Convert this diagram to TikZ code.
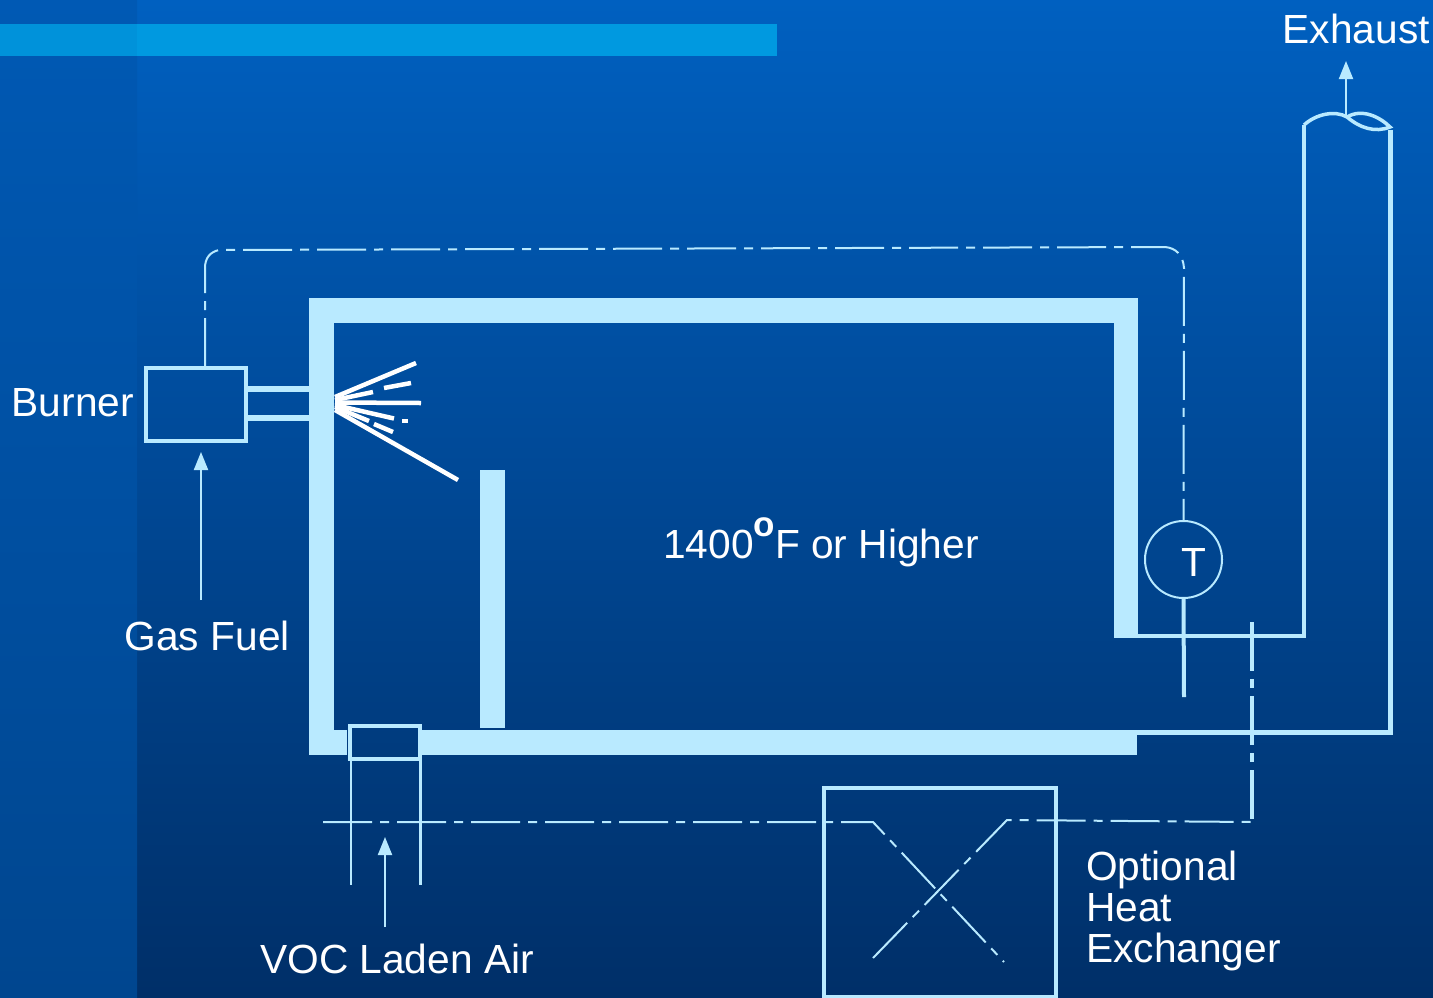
\documentclass[tikz,border=0pt]{standalone}
\usepackage{fontspec}
\setmainfont{Liberation Sans}
\usetikzlibrary{arrows.meta}
\definecolor{wallc}{HTML}{B9EAFF}
\definecolor{bandc}{HTML}{0099E0}
\definecolor{bandl}{HTML}{0092DA}
\definecolor{bgtop}{HTML}{0060C0}
\definecolor{bgbot}{HTML}{002F68}
\definecolor{ltop}{HTML}{0059B4}
\definecolor{lbot}{HTML}{00468F}
\tikzset{
  wall/.style={fill=wallc,draw=none},
  pipeline/.style={draw=wallc,line width=#1},
  pipeline/.default=4pt,
  dashdot/.style={draw=wallc,line width=#1,dash pattern=on 49pt off 8pt on 9pt off 8pt},
  dashdot/.default=2pt,
  flow/.style={draw=wallc,line width=2pt,-{Triangle[length=18pt,width=14pt]}},
  ray/.style={draw=white,line width=4.5pt},
  label/.style={text=white,inner sep=0pt,anchor=base west,font=\fontsize{40.7}{41}\selectfont,align=left},
}
\begin{document}
\begin{tikzpicture}[x=1pt,y=-1pt]
\useasboundingbox (0,0) rectangle (1433,997);
% background
\shade[top color=bgtop,bottom color=bgbot] (0,0) rectangle (1433,997);
\shade[top color=ltop,bottom color=lbot] (0,0) rectangle (137,997);
\fill[bandc] (0,24) rectangle (777,56);
\fill[bandl] (0,24) rectangle (137,56);
% furnace walls
\fill[wall] (309,298) rectangle (1138,323);
\fill[wall] (309,298) rectangle (334,755);
\fill[wall] (1114,298) rectangle (1138,638);
\fill[wall] (309,730) rectangle (347,755);
\fill[wall] (419,730) rectangle (1137,755);
\fill[wall] (480,470) rectangle (505,728);
% named parts
\node[draw=wallc,line width=4pt,minimum width=100pt,minimum height=73pt,inner sep=0pt] (burner) at (196,404.5) {};
\node[draw=wallc,line width=4pt,minimum width=70pt,minimum height=33pt,inner sep=0pt] (inlet) at (385,742.5) {};
\node[draw=wallc,line width=2pt,circle,minimum size=77pt,inner sep=0pt] (tc) at (1183.5,559.5) {};
\node[text=white,inner sep=0pt,anchor=base,font=\fontsize{40.7}{41}\selectfont] (tlabel) at (1194,576) {T};
\node[draw=wallc,line width=3.5pt,minimum width=232pt,minimum height=209pt,inner sep=0pt] (hx) at (940,892.5) {};
% burner pipes
\draw[pipeline=6pt] (246,389) -- (310,389);
\draw[pipeline=6pt] (246,418) -- (310,418);
% spray
\coordinate (s1) at (416,363);
\coordinate (s2) at (373,392);
\coordinate (s2a) at (384,388);
\coordinate (s2b) at (411,383);
\coordinate (s3) at (421,403);
\coordinate (s4) at (394,418.5);
\coordinate (s4a) at (402,421);
\coordinate (s4b) at (408,421);
\coordinate (s5) at (369,421);
\coordinate (s5a) at (374,424);
\coordinate (s5b) at (393,432);
\coordinate (s6) at (458,480);
\draw[ray] (335,397) -- (s1);
\draw[ray] (335,400) -- (s2);
\draw[ray] (s2a) -- (s2b);
\draw[ray] (335,402.5) -- (s3);
\draw[ray] (335,405) -- (s4);
\draw[ray] (s4a) -- (s4b);
\draw[ray] (335,407) -- (s5);
\draw[ray] (s5a) -- (s5b);
\draw[ray] (335,410) -- (s6);
% stack
\coordinate (stackL) at (1304,125);
\coordinate (stackR) at (1390.5,130);
\coordinate (stackRb) at (1390.5,732.5);
\coordinate (wave) at (1347,117);
\coordinate (furnOut) at (1138,636);
\coordinate (furnOutb) at (1137,732.5);
\draw[pipeline] (furnOut) -- (1304,636) -- (stackL);
\draw[pipeline=4.5pt] (furnOutb) -- (stackRb) -- (stackR);
\draw[draw=wallc,line width=3.5pt] (stackL) .. controls (1316,114) and (1335,110) .. (wave)
   .. controls (1360,128) and (1375,133) .. (1390,127)
   .. controls (1380,117) and (1362,108) .. (wave);
% thermocouple
\coordinate (tcEnd) at (1184,697);
\draw[pipeline] (tc.south) -- (tcEnd);
% control line
\coordinate (cA) at (205,367);
\draw[dashdot] (cA) -- (205,268) .. controls (205,258) and (210,252) .. (219,250)
   -- (1165,247) .. controls (1176,248) and (1183,255) .. (1184,268) -- (tc.north);
% VOC / heat exchanger dash-dot
\coordinate (vocStart) at (323,822);
\coordinate (hxA) at (873,822);
\coordinate (hxB) at (1004,962);
\coordinate (hxC) at (873,958);
\coordinate (hxD) at (1007,820);
\coordinate (hxE) at (1252,822);
\coordinate (hxF) at (1252,622);
\draw[dashdot] (vocStart) -- (hxA) -- (hxB);
\draw[dashdot] (hxC) -- (hxD) -- (hxE);
\draw[dashdot=3.5pt] (hxF) -- (hxE);
% inlet duct
\coordinate (ductA) at (351,885);
\coordinate (ductB) at (420,885);
\draw[pipeline=2.5pt] (351,760) -- (ductA);
\draw[pipeline=3pt] (420,760) -- (ductB);
% labels
\node[label] (lburner) at (11.5,416) {Burner};
\node[label] (lgas) at (124.5,650) {Gas Fuel};
\node[label] (lvoc) at (260,973) {VOC Laden Air};
\node[label] (lexh) at (1282.5,43) {Exhaust};
\node[label] (ltemp) at (663,558) {1400\raisebox{21.5pt}{\fontsize{35}{35}\selectfont\bfseries o}F or Higher};
\node[label] (lhx1) at (1086,880.5) {Optional};
\node[label] (lhx2) at (1086,921.5) {Heat};
\node[label] (lhx3) at (1086,962.5) {Exchanger};
% arrows
\coordinate (gasTip) at (201,452);
\coordinate (vocTip) at (385,837);
\coordinate (exTip) at (1346,61);
\draw[flow] (201,600) -- (gasTip);
\draw[flow] (385,927) -- (vocTip);
\draw[flow] (wave -| exTip) -- (exTip);
\end{tikzpicture}
\end{document}
